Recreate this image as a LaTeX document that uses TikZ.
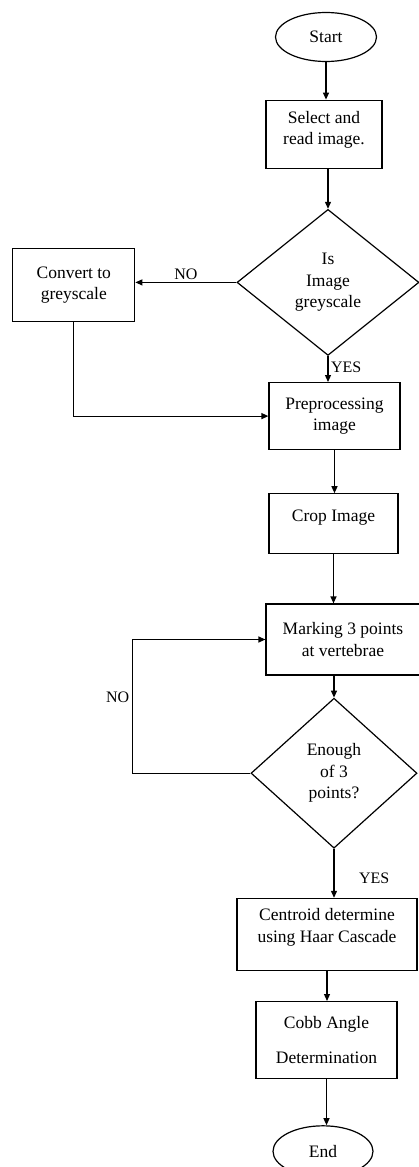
\documentclass[tikz,border=0pt]{standalone}
\usepackage{fontspec}
\setmainfont{Liberation Serif}
\usepackage{xcolor}
\usepackage{tikz}
\usetikzlibrary{positioning,shapes.geometric,arrows.meta}

\begin{document}
\begin{tikzpicture}[x=1pt,y=1pt,
every node/.style = {
	draw=black, line width=1.2pt,
	align=center,
	font=\fontsize{17.5}{21.5}\selectfont,
	inner sep=0pt
	},
term/.style = {shape=ellipse},
proc/.style = {shape=rectangle},
dec/.style = {shape=diamond, aspect=1.25},
lbl/.style = {draw=none, inner sep=2.5pt, font=\fontsize{16}{20}\selectfont},
arr/.style = {draw, -{Triangle[length=7pt,width=6pt]}, line width=1.2pt}
]
\useasboundingbox (0,0) rectangle (418,-1167);
\node[term,minimum width=101pt,minimum height=49pt] (start) at (326,-37) {Start};
\node[proc,minimum width=116pt,minimum height=68pt,text depth=12.5pt,
	below=37.5pt of start,xshift=-2pt] (sel) {Select and\\ read image.};
\node[dec,minimum width=182pt,minimum height=146pt,
	below=40pt of sel,xshift=4pt] (isgrey) {Is\\ Image\\ greyscale};
\node[proc,minimum width=122pt,minimum height=73pt,
	left=101pt of isgrey,yshift=-2.5pt] (conv) {Convert to\\ greyscale};
\node[proc,minimum width=131pt,minimum height=67pt,
	below=26pt of isgrey,xshift=6.5pt] (prep) {Preprocessing\\ image};
\node[proc,minimum width=129pt,minimum height=60pt,text depth=16pt,
	below=43pt of prep,xshift=-1pt] (crop) {Crop Image};
\node[proc,minimum width=154pt,minimum height=71pt,
	below=49pt of crop,xshift=9.5pt] (mark) {Marking 3 points\\ at vertebrae};
\node[dec,minimum width=166pt,minimum height=150pt,
	below=22pt of mark,xshift=-9pt] (enough) {Enough\\ of 3\\ points?};
\node[proc,minimum width=180pt,minimum height=72pt,text depth=18pt,
	below=49pt of enough,xshift=-7pt] (cent) {Centroid determine\\ using Haar Cascade};
\node[proc,minimum width=141pt,minimum height=77pt,
	below=30pt of cent,xshift=-0.5pt] (cobb) {Cobb Angle\\[13pt] Determination};
\node[term,minimum width=100pt,minimum height=51pt,
	below=46pt of cobb,xshift=-3.5pt] (end) {End};

\path
(start) edge[arr] (start |- sel.north)
(sel.south -| isgrey.north) edge[arr] (isgrey.north)
(isgrey.west) edge[arr] node[lbl,above]{NO} (isgrey.west -| conv.east)
(isgrey.south) edge[arr] node[lbl,right,pos=0.45]{YES} (isgrey.south |- prep.north)
(prep.south) edge[arr] (prep.south |- crop.north)
(crop.south) edge[arr] (crop.south |- mark.north)
(mark.south -| enough.north) edge[arr] (enough.north)
(enough.south) edge[arr] node[lbl,right,pos=0.6,xshift=22pt]{YES} (enough.south |- cent.north)
(cent.south) edge[arr] (cent.south |- cobb.north)
(cobb.south) edge[arr] (cobb.south |- end.north);
\draw[arr] (conv.south) |- (prep.west);
\draw[arr] (enough.west) -- ++(-118pt,0) |- node[lbl,left,pos=0.285]{NO} (mark.west);
\end{tikzpicture}
\end{document}
